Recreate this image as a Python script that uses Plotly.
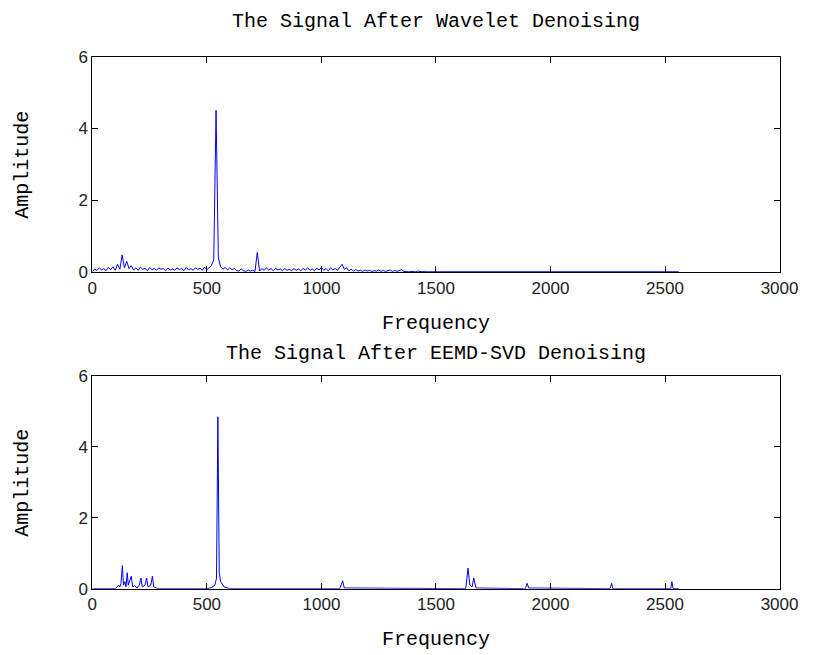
import plotly.graph_objects as go

# ---------------- data ----------------
wav_freq = list(range(0, 1470, 10)) + [2560]
wav_amp = [
    0.02, 0.08, 0.05, 0.12, 0.06, 0.10, 0.04, 0.13, 0.07, 0.15,
    0.05, 0.22, 0.08, 0.48, 0.12, 0.30, 0.10, 0.18, 0.06, 0.12,
    0.05, 0.14, 0.08, 0.11, 0.04, 0.13, 0.07, 0.10, 0.05, 0.12,
    0.08, 0.10, 0.04, 0.11, 0.06, 0.09, 0.05, 0.12, 0.07, 0.10,
    0.04, 0.13, 0.06, 0.10, 0.05, 0.12, 0.08, 0.11, 0.05, 0.14,
    0.07, 0.12, 0.18, 0.35, 4.50, 0.40, 0.15, 0.08, 0.13, 0.06,
    0.12, 0.07, 0.10, 0.04, 0.03, 0.09, 0.04, 0.02, 0.06, 0.03,
    0.05, 0.02, 0.55, 0.03, 0.10, 0.05, 0.12, 0.06, 0.10, 0.04,
    0.11, 0.06, 0.09, 0.04, 0.10, 0.05, 0.08, 0.04, 0.10, 0.05,
    0.09, 0.04, 0.10, 0.06, 0.12, 0.05, 0.09, 0.04, 0.11, 0.06,
    0.13, 0.05, 0.10, 0.04, 0.12, 0.06, 0.10, 0.05, 0.14, 0.22,
    0.08, 0.12, 0.04, 0.08, 0.03, 0.07, 0.03, 0.05, 0.02, 0.06,
    0.03, 0.05, 0.02, 0.04, 0.03, 0.06, 0.02, 0.05, 0.02, 0.04,
    0.06, 0.02, 0.05, 0.02, 0.04, 0.07, 0.02, 0.01, 0.01, 0.02,
    0.01, 0.01, 0.03, 0.01, 0.01, 0.02, 0.01, 0.01,
]

eemd_freq = [0, 100, 115, 120, 125, 131, 136, 142, 147, 152, 157, 162, 170, 176,
             185, 195, 205, 212, 218, 230, 237, 243, 255, 262, 268, 280, 290,
             500, 520, 535, 542, 548, 554, 560, 575, 600,
             1080, 1093, 1100, 1630, 1640, 1648, 1658, 1665, 1675,
             1890, 1898, 1905, 2260, 2267, 2272, 2525, 2530, 2535, 2560]
eemd_amp = [0, 0, 0.10, 0.05, 0.15, 0.65, 0.10, 0.20, 0.05, 0.45, 0.10, 0.20, 0.35, 0.05,
            0.08, 0.02, 0.10, 0.30, 0.05, 0.10, 0.30, 0.05, 0.10, 0.35, 0.05, 0.02, 0,
            0, 0.03, 0.10, 0.30, 4.85, 0.45, 0.20, 0.05, 0,
            0, 0.22, 0.02, 0, 0.58, 0.10, 0.05, 0.30, 0.02,
            0, 0.15, 0.02, 0, 0.15, 0, 0, 0.20, 0, 0]

x_ticks = [0, 500, 1000, 1500, 2000, 2500, 3000]
y_ticks = [0, 2, 4, 6]
titles = ["The Signal After Wavelet Denoising", "The Signal After EEMD-SVD Denoising"]

# ---------------- figure ----------------
W, H = 817, 655
fig = go.Figure()
fig.add_trace(go.Scatter(x=wav_freq, y=wav_amp, mode="lines",
                         line=dict(color="#0000ee", width=1), xaxis="x", yaxis="y"))
fig.add_trace(go.Scatter(x=eemd_freq, y=eemd_amp, mode="lines",
                         line=dict(color="#0000ee", width=1), xaxis="x2", yaxis="y2"))

xl, xr = 90, 798
panels = [(49, 271), (378, 597)]
title_y = [13, 355]
xlabel_y = [324, 649]

def ydom(top, bot):
    return [1 - bot / H, 1 - top / H]

axis_common = dict(showline=True, linecolor="#000", linewidth=1, mirror="ticks",
                   ticks="inside", ticklen=6, tickcolor="#000", showgrid=False,
                   zeroline=False, tickfont=dict(family="Liberation Sans", size=17, color="#222"))

fig.update_layout(
    width=W, height=H, margin=dict(l=0, r=0, t=0, b=0),
    paper_bgcolor="white", plot_bgcolor="white", showlegend=False,
    xaxis=dict(domain=[xl / W, xr / W], range=[0, 3000], tickvals=x_ticks, anchor="y", **axis_common),
    yaxis=dict(domain=ydom(*panels[0]), range=[0, 6], tickvals=y_ticks, anchor="x", **axis_common),
    xaxis2=dict(domain=[xl / W, xr / W], range=[0, 3000], tickvals=x_ticks, anchor="y2", **axis_common),
    yaxis2=dict(domain=ydom(*panels[1]), range=[0, 6], tickvals=y_ticks, anchor="x2", **axis_common),
)

mono = dict(family="Liberation Mono", size=20, color="#000")
for i, (top, bot) in enumerate(panels):
    fig.add_annotation(text=titles[i], x=(xl + xr) / 2 / W, y=1 - title_y[i] / H,
                       xref="paper", yref="paper", showarrow=False, font=mono,
                       xanchor="center", yanchor="middle")
    fig.add_annotation(text="Frequency", x=(xl + xr) / 2 / W, y=1 - xlabel_y[i] / H,
                       xref="paper", yref="paper", showarrow=False, font=mono,
                       xanchor="center", yanchor="middle")
    fig.add_annotation(text="Amplitude", x=18 / W, y=1 - (top + bot) / 2 / H,
                       xref="paper", yref="paper", showarrow=False, font=mono,
                       textangle=-90, xanchor="center", yanchor="middle")

fig.write_html("out.html")
